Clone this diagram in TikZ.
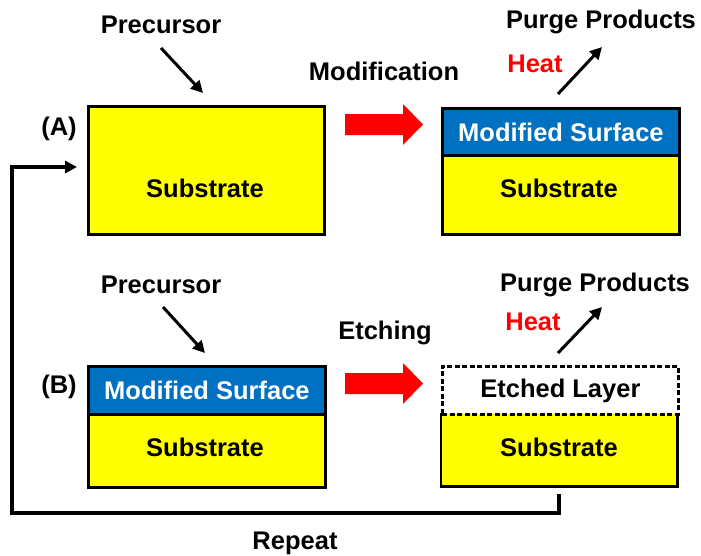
\documentclass[tikz,border=0pt]{standalone}
\usepackage{fontspec}
\setmainfont{Liberation Sans}
\usetikzlibrary{arrows.meta}
\definecolor{layerblue}{RGB}{0,112,192}
\definecolor{subyellow}{RGB}{255,255,0}
\begin{document}
\begin{tikzpicture}[x=1pt,y=-1pt,
  layer/.style={draw=black, line width=2.8pt, anchor=north west, inner sep=0pt, minimum width=#1},
  sub/.style={layer=#1, fill=subyellow},
  mod/.style={layer=#1, fill=layerblue},
  etched/.style={layer=#1, fill=white, dash pattern=on 5pt off 2.5pt},
  txt/.style={font=\fontsize{25.5}{29}\selectfont\bfseries, inner sep=0pt},
  wtxt/.style={txt, text=white},
  rtxt/.style={txt, text=red},
  pointer/.style={line width=3pt, -{Triangle[length=12pt,width=12pt]}},
  blockarrow/.style={fill=red},
]
\useasboundingbox (0,0) rectangle (701,555);

% ---------------- (A) modification step ----------------
\node[sub=236pt, minimum height=128pt] (a1) at (87,105) {};
\node[txt] (a1t) at (205,188) {Substrate};
\node[txt] (lA) at (59,129) {(A)};

\node[txt] (precA) at (161,25) {Precursor};
\coordinate (precA0) at (161,48);
\coordinate (precA1) at (203,93);
\draw[pointer] (precA0) -- (precA1);

\node[txt] (modif) at (384,71) {Modification};
\fill[blockarrow] (345,114) -- (403,114) -- (403,104) -- (423,124.5) -- (403,145) -- (403,135) -- (345,135) -- cycle;

\node[sub=237pt, minimum height=79pt] (a2s) at (441,154) {};
\node[mod=237pt, minimum height=47pt] (a2m) at (441,107) {};
\node[wtxt] at (a2m.center) {Modified Surface};
\node[txt] at (559,188) {Substrate};

\node[rtxt] (heatA) at (535,64) {Heat};
\node[txt] (purgeA) at (601,22) {Purge Products};
\coordinate (outA0) at (558,94);
\coordinate (outA1) at (602,47);
\draw[pointer] (outA0) -- (outA1);

% ---------------- (B) etching step ----------------
\node[sub=237pt, minimum height=73pt] (b1s) at (87,413) {};
\node[mod=237pt, minimum height=48pt] (b1m) at (87,365) {};
\node[wtxt] at (b1m.center) {Modified Surface};
\node[txt] at (205,447) {Substrate};
\node[txt] (lB) at (59,387) {(B)};

\node[txt] (precB) at (161,285) {Precursor};
\coordinate (precB0) at (163,307);
\coordinate (precB1) at (205,353);
\draw[pointer] (precB0) -- (precB1);

\node[txt] (etch) at (385,333) {Etching};
\fill[blockarrow] (345,373) -- (403,373) -- (403,363) -- (423,383.5) -- (403,404) -- (403,394) -- (345,394) -- cycle;

% substrate under the etched layer: its top edge is the dashed boundary
\node[fill=subyellow, anchor=north west, inner sep=0pt, minimum width=236pt, minimum height=73pt] (b2s) at (441,413) {};
\draw[line width=2.8pt] (b2s.north west) -- (b2s.south west) -- (b2s.south east) -- (b2s.north east);
\node[etched=236pt, minimum height=48pt] (b2e) at (441,365) {};
\node[txt] at (b2e.center) {Etched Layer};
\node[txt] at (559,447) {Substrate};

\node[rtxt] (heatB) at (533,322) {Heat};
\node[txt] (purgeB) at (595,285) {Purge Products};
\coordinate (outB0) at (558,353);
\coordinate (outB1) at (602,307);
\draw[pointer] (outB0) -- (outB1);

% ---------------- repeat loop ----------------
\coordinate (rep0) at (559,494);
\coordinate (rep1) at (12,513);
\coordinate (rep2) at (77,167);
\draw[line width=3.2pt, -{Triangle[length=12pt,width=12pt]}] (rep0) |- (rep1) |- (rep2);
\node[txt] (repeat) at (295,543) {Repeat};
\end{tikzpicture}
\end{document}
